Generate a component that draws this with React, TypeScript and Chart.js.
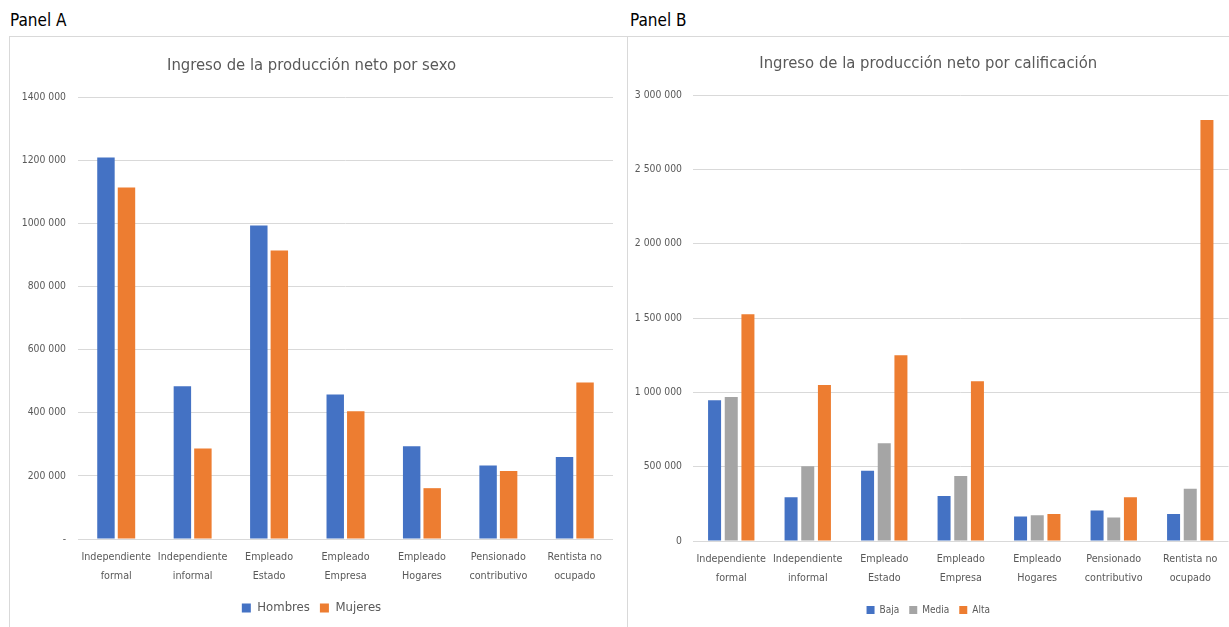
import React, { useEffect, useRef } from "react";
import { Chart, registerables } from "chart.js";
Chart.register(...registerables);

const FONT = "'DejaVu Sans Condensed', 'Liberation Sans Narrow', sans-serif";
Chart.defaults.font.family = FONT;

const categories = [
  ["Independiente", "formal"],
  ["Independiente", "informal"],
  ["Empleado", "Estado"],
  ["Empleado", "Empresa"],
  ["Empleado", "Hogares"],
  ["Pensionado", "contributivo"],
  ["Rentista no", "ocupado"],
];
const hombres = [1208000, 484000, 993000, 458000, 294000, 233000, 260000];
const mujeres = [1113000, 287000, 914000, 405000, 161000, 215000, 496000];
const baja = [946000, 295000, 472000, 302000, 165000, 205000, 181000];
const media = [969000, 503000, 658000, 438000, 174000, 158000, 351000];
const alta = [1526000, 1049000, 1250000, 1074000, 181000, 295000, 2832000];
const yTicksA = ["-", "200 000", "400 000", "600 000", "800 000", "1000 000", "1200 000", "1400 000"];
const yTicksB = ["0", "500 000", "1 000 000", "1 500 000", "2 000 000", "2 500 000", "3 000 000"];

const BLUE = "#4472C4";
const ORANGE = "#ED7D31";
const GRAY = "#A5A5A5";
const TEXT = "#595959";
const GRID = "#d9d9d9";

function makeConfig(p: any): any {
  return {
    type: "bar",
    data: { labels: categories, datasets: p.datasets },
    options: {
      responsive: false,
      animation: false,
      layout: { padding: { left: 0, right: p.padRight, top: 0, bottom: p.padBottom } },
      plugins: {
        title: {
          display: true,
          text: p.title,
          color: TEXT,
          font: { size: 16.5, weight: "normal", lineHeight: 1.2 },
          padding: { top: p.titleTop, bottom: p.titleBottom },
        },
        legend: {
          position: "bottom",
          labels: {
            boxWidth: p.box,
            boxHeight: p.box,
            color: TEXT,
            font: { size: p.legendSize },
            padding: 10,
          },
        },
        tooltip: { enabled: false },
      },
      scales: {
        x: {
          grid: { display: false, drawTicks: false },
          border: { display: false },
          ticks: {
            color: TEXT,
            font: { size: 10.7, lineHeight: 1.78 },
            padding: 8.5,
            maxRotation: 0,
            autoSkip: false,
          },
          afterFit: (s: any) => {
            s.height = p.xHeight;
          },
        },
        y: {
          min: 0,
          max: p.max,
          ticks: {
            stepSize: p.step,
            color: TEXT,
            font: { size: 10.3 },
            padding: p.yPad,
            callback: (v: number) => p.ticks[Math.round(v / p.step)],
          },
          grid: { color: GRID, drawTicks: false, lineWidth: 1 },
          border: { display: false },
          afterFit: (s: any) => {
            s.width = p.yWidth;
          },
        },
      },
    },
  };
}

function ChartCanvas({ cfg, width, height, left, top }: any) {
  const ref = useRef<HTMLCanvasElement>(null);
  useEffect(() => {
    const chart = new Chart(ref.current as HTMLCanvasElement, cfg());
    return () => chart.destroy();
  }, []);
  return (
    <canvas
      ref={ref}
      width={width}
      height={height}
      style={{ position: "absolute", left, top, width, height, display: "block" }}
    />
  );
}

const cfgA = () =>
  makeConfig({
    title: "Ingreso de la producción neto por sexo",
    datasets: [
      { label: "Hombres", data: hombres, backgroundColor: BLUE, categoryPercentage: 0.537, barPercentage: 0.85 },
      { label: "Mujeres", data: mujeres, backgroundColor: ORANGE, categoryPercentage: 0.537, barPercentage: 0.85 },
    ],
    padRight: 14,
    padBottom: 2.5,
    titleTop: 18.5,
    titleBottom: 21.7,
    box: 9,
    legendSize: 13,
    xHeight: 52.5,
    max: 1400000,
    step: 200000,
    ticks: yTicksA,
    yPad: 12,
    yWidth: 68,
  });

const cfgB = () =>
  makeConfig({
    title: "Ingreso de la producción neto por calificación",
    datasets: [
      { label: "Baja", data: baja, backgroundColor: BLUE, categoryPercentage: 0.654, barPercentage: 0.78 },
      { label: "Media", data: media, backgroundColor: GRAY, categoryPercentage: 0.654, barPercentage: 0.78 },
      { label: "Alta", data: alta, backgroundColor: ORANGE, categoryPercentage: 0.654, barPercentage: 0.78 },
    ],
    padRight: 14.5,
    padBottom: 2,
    titleTop: 17.1,
    titleBottom: 21.1,
    box: 8,
    legendSize: 10,
    xHeight: 54,
    max: 3000000,
    step: 500000,
    ticks: yTicksB,
    yPad: 11,
    yWidth: 65,
  });

export default function App() {
  return (
    <div
      style={{
        position: "absolute",
        left: 0,
        top: 0,
        width: 1229,
        height: 627,
        overflow: "hidden",
        background: "#fff",
        fontFamily: FONT,
      }}
    >
      <div style={{ position: "absolute", left: 10, top: 8, fontSize: 17, lineHeight: "24px", color: "#000" }}>
        Panel A
      </div>
      <div style={{ position: "absolute", left: 630, top: 8, fontSize: 17, lineHeight: "24px", color: "#000" }}>
        Panel B
      </div>
      <div
        style={{
          position: "absolute",
          left: 9,
          top: 36,
          width: 619,
          height: 700,
          boxSizing: "border-box",
          borderLeft: `1px solid ${GRID}`,
          borderTop: `1px solid ${GRID}`,
          borderRight: `1px solid ${GRID}`,
        }}
      />
      <div
        style={{
          position: "absolute",
          left: 628,
          top: 36,
          width: 700,
          height: 1,
          background: GRID,
        }}
      />
      <ChartCanvas cfg={cfgA} width={617} height={590} left={10} top={37} />
      <ChartCanvas cfg={cfgB} width={615} height={590} left={628} top={37} />
    </div>
  );
}
